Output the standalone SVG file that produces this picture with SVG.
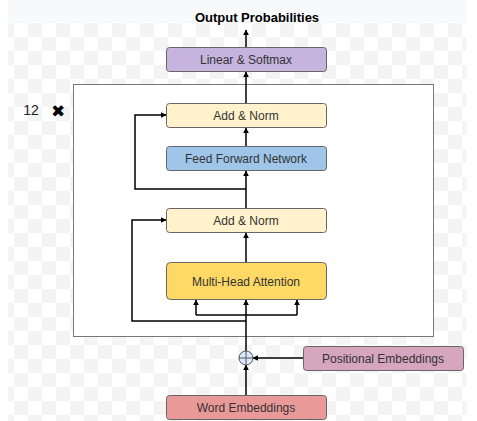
<svg xmlns="http://www.w3.org/2000/svg" width="477" height="421" viewBox="0 0 477 421">
<style>
.box{stroke:#666;stroke-width:1}
.lbl{font-family:"Liberation Sans",Arial,sans-serif;font-size:12px;fill:#333;text-anchor:middle;dominant-baseline:central}
.ln{fill:none;stroke:#000;stroke-width:1.5}
</style>
<defs>
<pattern id="chk" x="0" y="23" width="28" height="28" patternUnits="userSpaceOnUse">
<rect width="28" height="28" fill="#fff"/>
<rect width="14" height="14" fill="#f4f4f4"/>
<rect x="14" y="14" width="14" height="14" fill="#f4f4f4"/>
</pattern>
<marker id="ah" viewBox="0 0 10 10" refX="9" refY="5" markerWidth="6" markerHeight="6" markerUnits="userSpaceOnUse" orient="auto">
<path d="M0,0 L10,5 L0,10 z" fill="#000"/>
</marker>
</defs>
<rect width="477" height="421" fill="#fff"/>
<rect x="8" y="0" width="459" height="22" fill="#f8f9fa"/>
<rect x="8" y="22" width="459" height="399" fill="url(#chk)"/>

<g id="title"><text x="257" y="17" font-family="Liberation Sans,Arial,sans-serif" font-size="13" font-weight="bold" fill="#000" text-anchor="middle" dominant-baseline="central">Output Probabilities</text></g>

<g id="encoder"><rect x="73.5" y="84.5" width="360" height="252" fill="#fff" stroke="#777" stroke-width="1"/></g>
<g id="repeat">
<text x="31" y="110" font-family="Liberation Sans,Arial,sans-serif" font-size="14" fill="#222" text-anchor="middle" dominant-baseline="central">12</text>
<text x="58" y="111" font-family="DejaVu Sans,sans-serif" font-size="17" fill="#000" text-anchor="middle" dominant-baseline="central">✖</text>
</g>

<g id="connectors">
<path class="ln" d="M246,47 V30" marker-end="url(#ah)"/>
<path class="ln" d="M246,103 V72" marker-end="url(#ah)"/>
<path class="ln" d="M246,146 V128" marker-end="url(#ah)"/>
<path class="ln" d="M246,208 V171" marker-end="url(#ah)"/>
<path class="ln" d="M246,262 V233" marker-end="url(#ah)"/>
<path class="ln" d="M246,351 V300" marker-end="url(#ah)"/>
<path class="ln" d="M196,315 H297"/>
<path class="ln" d="M196,315 V300" marker-end="url(#ah)"/>
<path class="ln" d="M297,315 V300" marker-end="url(#ah)"/>
<path class="ln" d="M246,321 H132 V220 H166" marker-end="url(#ah)"/>
<path class="ln" d="M246,189 H135 V115 H166" marker-end="url(#ah)"/>
<path class="ln" d="M303,358 H253" marker-end="url(#ah)"/>
<path class="ln" d="M246,395 V365" marker-end="url(#ah)"/>
</g>

<g id="linear"><rect class="box" x="166.5" y="47.5" width="160" height="24" rx="3" fill="#c6b4de"/><text class="lbl" x="246" y="60">Linear &amp; Softmax</text></g>
<g id="addnorm2"><rect class="box" x="166.5" y="103.5" width="160" height="24" rx="3" fill="#fff2cc"/><text class="lbl" x="246" y="116">Add &amp; Norm</text></g>
<g id="ffn"><rect class="box" x="166.5" y="146.5" width="160" height="24" rx="3" fill="#9fc5e8"/><text class="lbl" x="246" y="159">Feed Forward Network</text></g>
<g id="addnorm1"><rect class="box" x="166.5" y="208.5" width="160" height="24" rx="3" fill="#fff2cc"/><text class="lbl" x="246" y="221">Add &amp; Norm</text></g>
<g id="mha"><rect class="box" x="166.5" y="262.5" width="160" height="37" rx="4" fill="#ffd966"/><text class="lbl" x="246" y="282">Multi-Head Attention</text></g>
<g id="add"><circle cx="246" cy="358" r="7" fill="#dae8fc" stroke="#555" stroke-width="1"/><path d="M239,358 H253 M246,351 V365" stroke="#555" stroke-width="1"/></g>
<g id="posemb"><rect class="box" x="303.5" y="346.5" width="160" height="24" rx="3" fill="#d5a6bd"/><text class="lbl" x="383" y="359">Positional Embeddings</text></g>
<g id="wordemb"><rect class="box" x="166.5" y="395.5" width="160" height="24" rx="3" fill="#ea9999"/><text class="lbl" x="246" y="408">Word Embeddings</text></g>
</svg>
